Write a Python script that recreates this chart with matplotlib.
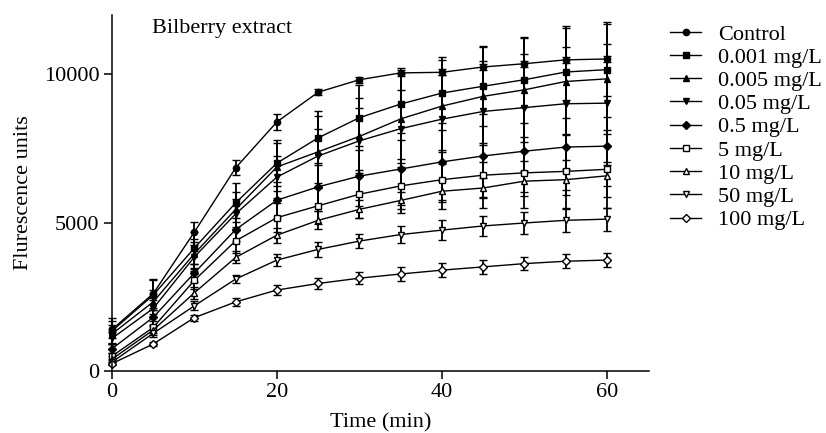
import matplotlib
matplotlib.use("Agg")
import matplotlib.pyplot as plt

plt.rcParams['font.family'] = ['Liberation Serif', 'DejaVu Serif']

time_min = [0, 5, 10, 15, 20, 25, 30, 35, 40, 45, 50, 55, 60]

labels = ["Control", "0.001 mg/L", "0.005 mg/L", "0.05 mg/L", "0.5 mg/L",
          "5 mg/L", "10 mg/L", "50 mg/L", "100 mg/L"]

control = [1400, 2610, 4690, 6850, 8400, 9400, 9820, 10050, 10070, 10250, 10360, 10490, 10520]
c_0001 = [1350, 2560, 4150, 5670, 7010, 7860, 8540, 9000, 9370, 9600, 9820, 10080, 10160]
c_0005 = [1250, 2330, 3960, 5450, 6880, 7390, 7910, 8500, 8930, 9260, 9480, 9760, 9850]
c_005 = [1100, 2110, 3850, 5300, 6540, 7250, 7760, 8170, 8490, 8750, 8880, 9010, 9030]
c_05 = [750, 1810, 3310, 4770, 5760, 6210, 6570, 6810, 7050, 7250, 7410, 7550, 7580]
c_5 = [500, 1470, 3060, 4390, 5170, 5570, 5960, 6240, 6450, 6600, 6680, 6730, 6800]
c_10 = [400, 1380, 2640, 3830, 4580, 5080, 5450, 5750, 6060, 6170, 6400, 6450, 6580]
c_50 = [300, 1270, 2200, 3100, 3740, 4100, 4380, 4600, 4750, 4890, 4990, 5080, 5120]
c_100 = [250, 910, 1800, 2330, 2730, 2950, 3130, 3270, 3400, 3510, 3620, 3700, 3740]

sd_control = [300, 500, 350, 250, 280, 100, 100, 100, 100, 100, 100, 100, 100]
sd_0001 = [450, 500, 550, 660, 770, 900, 1100, 1200, 1230, 1350, 1450, 1550, 1600]
sd_0005 = [300, 400, 500, 600, 800, 1200, 1300, 1500, 1540, 1650, 1750, 1800, 1850]
sd_005 = [200, 300, 400, 500, 700, 900, 1100, 1300, 1500, 1700, 1800, 1900, 2000]
sd_05 = [150, 250, 300, 400, 600, 800, 1000, 1200, 1300, 1400, 1500, 1600, 1700]
sd_5 = [100, 200, 300, 400, 500, 600, 800, 900, 1000, 1100, 1200, 1250, 1320]
sd_10 = [100, 150, 200, 200, 250, 300, 300, 300, 350, 350, 350, 350, 350]
sd_50 = [80, 120, 150, 150, 200, 250, 250, 290, 330, 350, 370, 380, 390]
sd_100 = [60, 80, 100, 130, 170, 180, 200, 220, 230, 230, 230, 230, 230]

series = [control, c_0001, c_0005, c_005, c_05, c_5, c_10, c_50, c_100]
errors = [sd_control, sd_0001, sd_0005, sd_005, sd_05, sd_5, sd_10, sd_50, sd_100]
markers = ['o', 's', '^', 'v', 'D', 's', '^', 'v', 'D']
filled = [True, True, True, True, True, False, False, False, False]
msizes = [4.5, 4.5, 4.5, 4.5, 4, 4.5, 4.5, 4.5, 4]

fig = plt.figure(figsize=(8.26, 4.33), dpi=100)
ax = fig.add_axes([0.1356, 0.1432, 0.650, 0.822])

handles = []
for y, e, m, f, ms, lab in zip(series, errors, markers, filled, msizes, labels):
    h = ax.errorbar(time_min, y, yerr=e, color='black', marker=m, markersize=ms,
                    markerfacecolor='black' if f else 'white',
                    markeredgecolor='black', markeredgewidth=1.0,
                    linewidth=1.0, elinewidth=1.3, capsize=2.8, capthick=1.3,
                    label=lab, clip_on=False)
    handles.append(h[0])  # line + marker only, no error bar in legend

ax.set_xlim(0, 65.1)
ax.set_ylim(0, 12000)
ax.set_xticks([0, 20, 40, 60])
ax.set_yticks([0, 5000, 10000])
ax.spines['top'].set_visible(False)
ax.spines['right'].set_visible(False)
for s in ['left', 'bottom']:
    ax.spines[s].set_linewidth(1.1)
ax.tick_params(axis='both', labelsize=16, length=6, width=1.1, direction='out', pad=3)

ax.set_xlabel("Time (min)", fontsize=16, labelpad=8)
ax.set_ylabel("Flurescence units", fontsize=16, labelpad=8)
ax.text(0.075, 0.99, "Bilberry extract", transform=ax.transAxes, fontsize=16,
        ha='left', va='top')

leg = ax.legend(handles=handles, labels=labels, loc='upper left',
                bbox_to_anchor=(1.04, 0.975), frameon=False, fontsize=16,
                labelspacing=0.12, handlelength=1.4, handletextpad=0.75,
                borderaxespad=0.0, borderpad=0.0)

fig.savefig("out.png", dpi=100)
